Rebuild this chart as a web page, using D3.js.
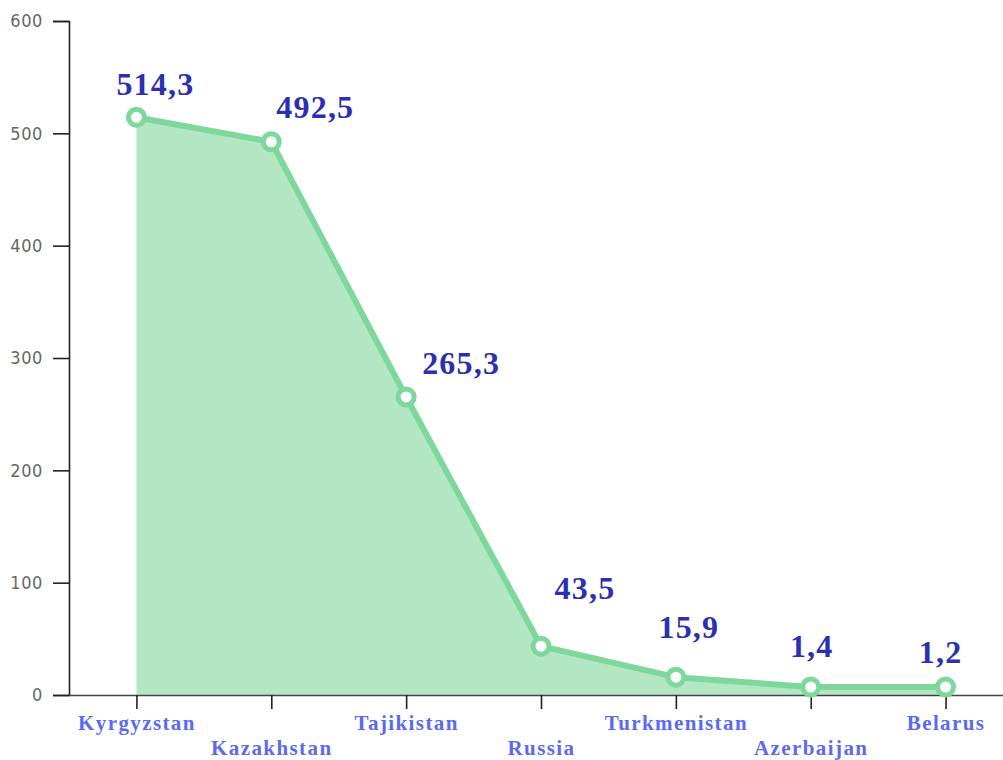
<!DOCTYPE html>
<html>
<head>
<meta charset="utf-8">
<script src="https://cdn.jsdelivr.net/npm/d3@7"></script>
<style>
  html, body { margin: 0; padding: 0; background: #fff; }
  svg { display: block; }
</style>
</head>
<body>
<svg id="chart" width="1003" height="760"></svg>
<script>
// ---- data ----
const countries = ["Kyrgyzstan", "Kazakhstan", "Tajikistan", "Russia", "Turkmenistan", "Azerbaijan", "Belarus"];
const values = [514.3, 492.5, 265.3, 43.5, 15.9, 1.4, 1.2];
const valueLabels = ["514,3", "492,5", "265,3", "43,5", "15,9", "1,4", "1,2"];
const yTicks = [0, 100, 200, 300, 400, 500, 600];

// ---- layout (label offsets relative to each point, in px) ----
const labelDx = [19, 44, 55, 44, 13, 1, -5];
const labelDy = [-22, -24, -23, -47, -39, -30, -24];

const svg = d3.select("#chart");
const x = d3.scalePoint().domain(countries).range([69, 1013]).padding(0.5);
const y = d3.scaleLinear().domain([0, 600]).range([695, 21]);
const minLift = 8; // markers never sit closer than this to the baseline
const py = v => Math.min(y(v), y(0) - minLift);

// area
const area = d3.area()
  .x((d, i) => x(countries[i]))
  .y0(y(0))
  .y1(d => py(d));
svg.append("path").datum(values)
  .attr("d", area)
  .attr("fill", "#b3e6c3");

// y axis
const yAxis = svg.append("g")
  .attr("transform", "translate(69,0)")
  .call(d3.axisLeft(y).tickValues(yTicks).tickSize(16).tickSizeOuter(16).tickPadding(10).tickFormat(d3.format("d")));
yAxis.selectAll("path, line").attr("stroke", "#222").attr("stroke-width", 1.6);
yAxis.selectAll("text")
  .attr("font-family", "'DejaVu Sans Condensed', 'DejaVu Sans', sans-serif")
  .attr("font-size", 18)
  .attr("letter-spacing", "0.6px")
  .attr("fill", "#666");

// x axis
const xAxis = svg.append("g")
  .attr("transform", `translate(0,${y(0)})`)
  .call(d3.axisBottom(x).tickSize(14).tickSizeOuter(0));
xAxis.select(".domain").attr("stroke", "#444").attr("stroke-width", 1.6);
xAxis.selectAll("line").attr("stroke", "#222").attr("stroke-width", 1.6);
xAxis.selectAll("text")
  .attr("font-family", "'Liberation Serif', 'Times New Roman', serif")
  .attr("font-weight", "bold")
  .attr("font-size", 21)
  .attr("letter-spacing", "1.4px")
  .attr("fill", "#5b6af2")
  .attr("dy", null)
  .attr("y", (d, i) => i % 2 === 0 ? 35 : 60);

// line
const line = d3.line()
  .x((d, i) => x(countries[i]))
  .y(d => py(d));
svg.append("path").datum(values)
  .attr("d", line)
  .attr("fill", "none")
  .attr("stroke", "#7ed79b")
  .attr("stroke-width", 6)
  .attr("stroke-linejoin", "round");

// markers
svg.append("g").selectAll("circle").data(values).join("circle")
  .attr("cx", (d, i) => x(countries[i]))
  .attr("cy", d => py(d))
  .attr("r", 8)
  .attr("fill", "#fff")
  .attr("stroke", "#7ed79b")
  .attr("stroke-width", 5);

// value labels
svg.append("g").selectAll("text").data(values).join("text")
  .attr("x", (d, i) => x(countries[i]) + labelDx[i])
  .attr("y", (d, i) => py(d) + labelDy[i])
  .attr("text-anchor", "middle")
  .attr("font-family", "'Liberation Serif', 'Times New Roman', serif")
  .attr("font-weight", "bold")
  .attr("font-size", 32)
  .attr("letter-spacing", "1.2px")
  .attr("fill", "#2b30b0")
  .text((d, i) => valueLabels[i]);
</script>
</body>
</html>
